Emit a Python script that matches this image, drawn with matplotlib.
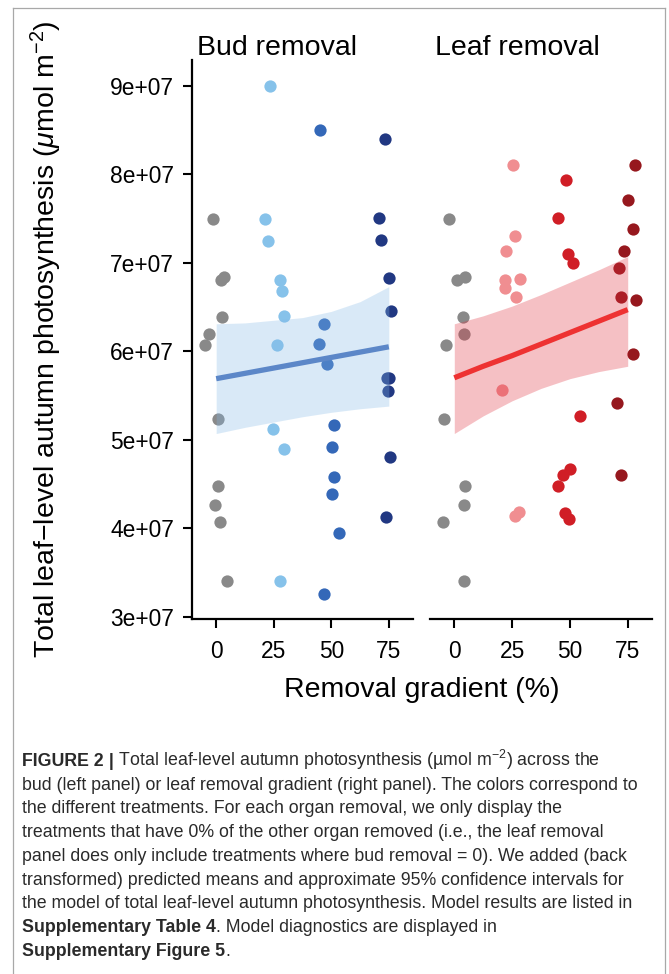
import matplotlib
matplotlib.use("Agg")
import matplotlib.pyplot as plt
from matplotlib.lines import Line2D
import numpy as np

plt.rcParams['font.family'] = ['Liberation Sans', 'DejaVu Sans']
plt.rcParams['mathtext.fontset'] = 'custom'
plt.rcParams['mathtext.rm'] = 'Liberation Sans'
plt.rcParams['mathtext.it'] = 'Liberation Sans:italic'

# values are in units of 1e6 umol m-2, x is jittered removal %
# controls (0 % removal) show up in both panels
ctrl_val = [74.9, 68.1, 68.4, 63.9, 61.9, 60.7, 52.3, 44.8, 42.6, 40.7, 34.0]
ctrl_x_bud = [-1.4, 2.0, 3.5, 2.5, -3.3, -4.8, 1.0, 1.0, -0.4, 1.5, 4.6]
ctrl_x_leaf = [-2.4, 1.2, 4.6, 3.8, 4.3, -3.4, -4.6, 4.7, 4.1, -4.9, 4.4]

# bud removal panel
bud25_x = [23.5, 21.3, 22.6, 27.8, 28.5, 29.3, 26.6, 24.9, 29.6, 27.8]
bud25_val = [90.0, 74.9, 72.5, 68.0, 66.8, 64.0, 60.7, 51.2, 48.9, 34.0]
bud50_x = [45.0, 47.0, 44.6, 48.2, 51.2, 50.2, 51.2, 50.5, 53.3, 47.0]
bud50_val = [85.0, 63.1, 60.8, 58.6, 51.7, 49.2, 45.8, 43.9, 39.5, 32.6]
bud75_x = [73.5, 70.8, 71.4, 74.9, 75.9, 74.0, 75.0, 74.6, 75.3, 73.7]
bud75_val = [84.0, 75.0, 72.6, 68.3, 64.5, 57.0, 57.0, 55.5, 48.0, 41.3]

# leaf removal panel
leaf25_x = [25.4, 26.1, 22.5, 28.3, 21.9, 21.9, 26.7, 20.6, 26.3, 28.0]
leaf25_val = [81.0, 73.0, 71.3, 68.2, 68.1, 67.1, 66.1, 55.6, 41.4, 41.8]
leaf50_x = [48.3, 44.9, 49.2, 51.3, 54.5, 50.0, 47.2, 44.9, 47.8, 49.7]
leaf50_val = [79.3, 75.0, 71.0, 70.0, 52.7, 46.7, 46.0, 44.8, 41.7, 41.0]
leaf75_x = [78.2, 75.1, 77.4, 73.2, 71.3, 72.2, 78.7, 77.4, 70.3, 72.2]
leaf75_val = [81.0, 77.1, 73.8, 71.3, 69.4, 66.1, 65.8, 59.7, 54.1, 46.0]

# predicted means and 95% CI (back transformed)
ci_x = [0, 12.5, 25, 37.5, 50, 62.5, 75]
bud_fit = [56.9, 57.5, 58.1, 58.7, 59.3, 59.9, 60.5]
bud_lo = [50.7, 51.4, 52.0, 52.6, 53.1, 53.5, 53.8]
bud_hi = [63.1, 63.2, 63.5, 63.8, 64.5, 65.6, 67.3]
leaf_fit = [57.0, 58.3, 59.5, 60.8, 62.1, 63.4, 64.7]
leaf_lo = [50.7, 52.7, 54.4, 55.8, 56.9, 57.7, 58.3]
leaf_hi = [63.1, 64.0, 65.1, 66.4, 67.8, 69.2, 70.7]

yticks = [30, 40, 50, 60, 70, 80, 90]
ytick_labels = ['3e+07', '4e+07', '5e+07', '6e+07', '7e+07', '8e+07', '9e+07']
xticks = [0, 25, 50, 75]

gray = '#898989'

W, H = 669, 974
fig = plt.figure(figsize=(W / 100, H / 100), dpi=100)

def px(x0, y0, x1, y1):
    return [x0 / W, 1 - y1 / H, (x1 - x0) / W, (y1 - y0) / H]

ax1 = fig.add_axes(px(192, 60, 413, 619))
ax2 = fig.add_axes(px(430, 60, 652, 619))

panels = [
    (ax1, 'Bud removal', ctrl_x_bud,
     [(bud25_x, bud25_val, '#86c2ea'), (bud50_x, bud50_val, '#3468b8'), (bud75_x, bud75_val, '#213882')],
     bud_fit, bud_lo, bud_hi, '#84b9e7', '#5c87c8'),
    (ax2, 'Leaf removal', ctrl_x_leaf,
     [(leaf25_x, leaf25_val, '#f08e91'), (leaf50_x, leaf50_val, '#d01e26'), (leaf75_x, leaf75_val, '#96181e')],
     leaf_fit, leaf_lo, leaf_hi, '#e1303e', '#ee3232'),
]

for ax, title, cx, groups, fit, lo, hi, band_col, line_col in panels:
    ax.scatter(cx, np.array(ctrl_val) * 1e6, s=78, color=gray, lw=0, zorder=2)
    for gx, gv, col in groups:
        ax.scatter(gx, np.array(gv) * 1e6, s=78, color=col, lw=0, zorder=2)
    ax.fill_between(ci_x, np.array(lo) * 1e6, np.array(hi) * 1e6,
                    color=band_col, alpha=0.3, lw=0, zorder=3)
    ax.plot(ci_x, np.array(fit) * 1e6, color=line_col, lw=3.8, zorder=4,
            solid_capstyle='butt')

    ax.set_xlim(-10.5, 85.5)
    ax.set_ylim(29.75e6, 92.9e6)
    ax.set_xticks(xticks)
    ax.set_xticklabels([str(t) for t in xticks])
    for s in ['top', 'right']:
        ax.spines[s].set_visible(False)
    ax.spines['bottom'].set_linewidth(1.6)
    ax.spines['left'].set_linewidth(1.6)
    ax.tick_params(length=6.5, width=1.5, labelsize=16.4, colors='black')
    ax.tick_params(axis='x', pad=8.5)
    ax.tick_params(axis='y', pad=6.5)
    ax.text(5 / 221, 1.021, title, transform=ax.transAxes, fontsize=20.5,
            ha='left', va='center')

ax1.set_yticks(np.array(yticks) * 1e6)
ax1.set_yticklabels(ytick_labels)
ax2.spines['left'].set_visible(False)
ax2.set_yticks([])

fig.text(46 / W, 1 - 339.5 / H,
         r'Total leaf$-$level autumn photosynthesis ($\mathit{\mu}$mol m$^{-2}$)',
         rotation=90, fontsize=20.5, ha='center', va='center')
fig.text(421.5 / W, 1 - 690 / H, 'Removal gradient (%)', fontsize=20.5,
         ha='center', va='center')

# caption, line by line (bold pieces measured and chained)
caption = [
    [('FIGURE 2', 'bold'), (' |', 'bold'),
     (' Total leaf-level autumn photosynthesis (\u00b5mol m$^{-2}$) across the', 'normal')],
    [('bud (left panel) or leaf removal gradient (right panel). The colors correspond to', 'normal')],
    [('the different treatments. For each organ removal, we only display the', 'normal')],
    [('treatments that have 0% of the other organ removed (i.e., the leaf removal', 'normal')],
    [('panel does only include treatments where bud removal = 0). We added (back', 'normal')],
    [('transformed) predicted means and approximate 95% confidence intervals for', 'normal')],
    [('the model of total leaf-level autumn photosynthesis. Model results are listed in', 'normal')],
    [('Supplementary Table 4', 'bold'), ('. Model diagnostics are displayed in', 'normal')],
    [('Supplementary Figure 5', 'bold'), ('.', 'normal')],
]
renderer = fig.canvas.get_renderer()
y = 766
for line in caption:
    x = 22
    for s, w in line:
        t = fig.text(x / W, 1 - y / H, s, fontsize=12.8, fontweight=w,
                     color='#2a2a2a', va='baseline', ha='left')
        x += t.get_window_extent(renderer).width
    y += 23.7

# thin frame round the figure
frame = dict(color='#a8a8a8', lw=0.9, transform=fig.transFigure)
fig.add_artist(Line2D([13 / W, 665 / W], [1 - 8 / H, 1 - 8 / H], **frame))
fig.add_artist(Line2D([13 / W, 13 / W], [0, 1 - 8 / H], **frame))
fig.add_artist(Line2D([665 / W, 665 / W], [0, 1 - 8 / H], **frame))

fig.savefig('out.png', dpi=100)
